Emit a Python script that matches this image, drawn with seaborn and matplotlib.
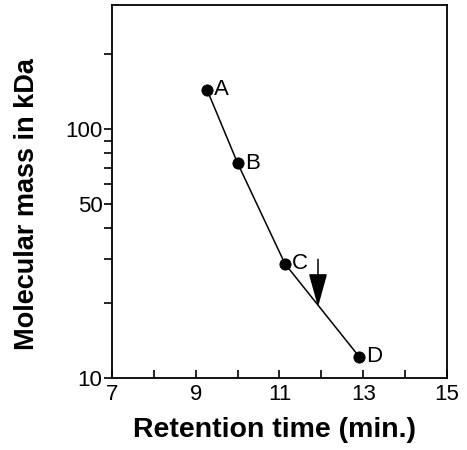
import pandas as pd
import seaborn as sns
import matplotlib.pyplot as plt
from matplotlib.ticker import FixedLocator, NullFormatter

retention = [9.27, 10.0, 11.13, 12.9]
mass = [144, 73, 28.8, 12.2]
labels = ["A", "B", "C", "D"]
arrow_x = 11.92
arrow_top, arrow_tip = 30.0, 19.3

df = pd.DataFrame({"time": retention, "mass": mass, "label": labels})

sns.set_style("ticks")
plt.rcParams["font.family"] = ["Liberation Sans", "DejaVu Sans"]
plt.rcParams["text.color"] = "black"
plt.rcParams["xtick.color"] = "black"
plt.rcParams["ytick.color"] = "black"
plt.rcParams["axes.labelcolor"] = "black"
plt.rcParams["axes.edgecolor"] = "black"

fig = plt.figure(figsize=(4.67, 4.5), dpi=100)
ax = fig.add_axes([0.240, 0.160, 0.717, 0.829])

sns.lineplot(data=df, x="time", y="mass", color="black", linewidth=1.1, ax=ax)
sns.scatterplot(data=df, x="time", y="mass", color="black", s=65, edgecolor="black", zorder=3, ax=ax)

for _, r in df.iterrows():
    ax.text(r["time"] + 0.17, r["mass"], r["label"], fontsize=16, va="center", ha="left")

ax.annotate("", xy=(arrow_x, arrow_tip), xytext=(arrow_x, arrow_top),
            arrowprops=dict(arrowstyle="-|>,head_width=5.8,head_length=21", mutation_scale=1,
                            color="black", lw=1.1, shrinkA=0, shrinkB=0))

ax.set_yscale("log")
ax.set_xlim(7, 15)
ax.set_ylim(10, 316)
ax.yaxis.set_major_locator(FixedLocator([10, 50, 100]))
ax.yaxis.set_minor_locator(FixedLocator([20, 30, 40, 60, 70, 80, 90, 200]))
ax.yaxis.set_minor_formatter(NullFormatter())
ax.set_yticklabels(["10", "50", "100"])
ax.set_xticks([7, 9, 11, 13, 15])
ax.set_xticks([8, 10, 12, 14], minor=True)

ax.tick_params(axis="y", which="both", direction="out", length=6, width=1.2, labelsize=16, pad=1)
ax.tick_params(axis="x", which="both", direction="in", length=6, width=1.2, labelsize=16, pad=4)

for s in ax.spines.values():
    s.set_visible(True)
    s.set_linewidth(1.3)

ax.set_xlabel("Retention time (min.)", fontsize=20.5, fontweight="bold")
ax.set_ylabel("Molecular mass in kDa", fontsize=19.5, fontweight="bold")
ax.xaxis.set_label_coords(0.484, -0.105)
ax.yaxis.set_label_coords(-0.215, 0.466)

fig.savefig("out.png", dpi=100)
